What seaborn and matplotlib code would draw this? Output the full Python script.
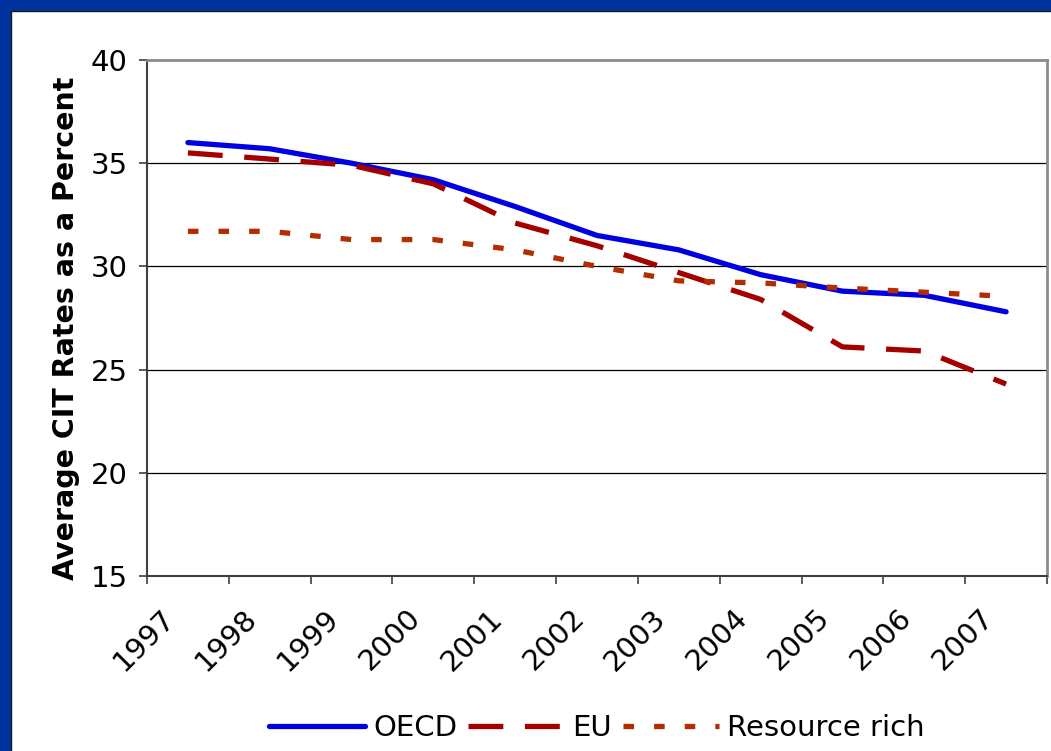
import matplotlib
matplotlib.use("Agg")
import matplotlib.pyplot as plt
import matplotlib.transforms as mtransforms
from matplotlib.patches import Rectangle
import numpy as np
import pandas as pd
import seaborn as sns

# Average corporate income tax rates, 1997-2007
years = ["1997", "1998", "1999", "2000", "2001", "2002",
         "2003", "2004", "2005", "2006", "2007"]
oecd = [36.0, 35.7, 35.0, 34.2, 32.9, 31.5, 30.8, 29.6, 28.8, 28.6, 27.8]
eu = [35.5, 35.2, 34.9, 34.0, 32.1, 31.0, 29.7, 28.4, 26.1, 25.9, 24.3]
resource_rich = [31.7, 31.7, 31.3, 31.3, 30.8, 30.0, 29.3, 29.2, 28.95, 28.75, 28.55]
series_names = ["OECD", "EU", "Resource rich"]
y_ticks = [15, 20, 25, 30, 35, 40]

W, H, DPI = 1051, 751, 100

sns.set_theme(style="white")
plt.rcParams["font.family"] = ["DejaVu Sans"]
plt.rcParams.update({"text.color": "black", "axes.labelcolor": "black",
                     "xtick.color": "black", "ytick.color": "black"})

pos = np.arange(len(years))
df = pd.concat([
    pd.DataFrame({"pos": pos, "rate": vals, "series": name})
    for name, vals in zip(series_names, [oecd, eu, resource_rich])
], ignore_index=True)

fig = plt.figure(figsize=(W / DPI, H / DPI), dpi=DPI)

# slide-style frame: blue band on top and left, white panel inside
fig.patches.append(Rectangle((0, 0), 1, 1, transform=fig.transFigure,
                             facecolor="#0033A0", edgecolor="none", zorder=-10))
fig.patches.append(Rectangle((11 / W, -0.01), 1.0, 1 + 0.01 - 11 / H,
                             transform=fig.transFigure, facecolor="white",
                             edgecolor="#1a1a1a", linewidth=1.0, zorder=-9))

ax = fig.add_axes([147 / W, 1 - 576 / H, 900 / W, 516 / H])
ax.set_facecolor("white")

palette = {"OECD": "#0000E0", "EU": "#A50000", "Resource rich": "#B32D00"}
dashes = {"OECD": "", "EU": (6.6, 4.1), "Resource rich": (2.0, 3.8)}

sns.lineplot(data=df, x="pos", y="rate", hue="series", style="series",
             hue_order=series_names, style_order=series_names,
             palette=palette, dashes=dashes, linewidth=3.8,
             ax=ax, legend=True, sort=False)

for line in ax.get_lines():
    line.set_solid_capstyle("round")
    line.set_dash_capstyle("butt")

ax.set_xlim(-0.5, len(years) - 0.5)
ax.set_ylim(15, 40)
ax.set_yticks(y_ticks)
ax.yaxis.grid(True, color="black", linewidth=0.9)
ax.xaxis.grid(False)
ax.set_axisbelow(True)

# category boundaries carry the tick marks, centres carry the year labels
ax.set_xticks(np.arange(len(years) + 1) - 0.5)
ax.set_xticklabels([])
ax.set_xticks(pos, years, minor=True)
ax.tick_params(axis="x", which="major", direction="out", length=6, width=1.2,
               color="#404040", bottom=True)
ax.tick_params(axis="x", which="minor", length=0, pad=20, labelsize=21,
               labelrotation=45)
ax.tick_params(axis="y", direction="out", length=6, width=1.2, color="#404040",
               left=True, pad=8, labelsize=21)

offset = mtransforms.ScaledTranslation(-27 / DPI, 0, fig.dpi_scale_trans)
for lab in ax.get_xticklabels(minor=True):
    lab.set_horizontalalignment("right")
    lab.set_rotation_mode("anchor")
    lab.set_transform(lab.get_transform() + offset)

ax.set_xlabel("")
ax.set_ylabel("Average CIT Rates as a Percent", fontsize=20.5,
              fontweight="bold")
ax.yaxis.set_label_coords(-0.0744, 0.48)

for side in ["top", "right"]:
    ax.spines[side].set_color("#8c8c8c")
    ax.spines[side].set_linewidth(2.0)
for side in ["left", "bottom"]:
    ax.spines[side].set_color("#404040")
    ax.spines[side].set_linewidth(1.5)

handles, labels = ax.get_legend_handles_labels()
ax.get_legend().remove()
fig.legend(handles, labels, loc="center", bbox_to_anchor=(597 / W, 1 - 728 / H),
           ncol=3, frameon=False, fontsize=21, handlelength=3.3,
           handletextpad=0.27, columnspacing=0.38, borderpad=0)

fig.savefig("out.png", dpi=DPI)
